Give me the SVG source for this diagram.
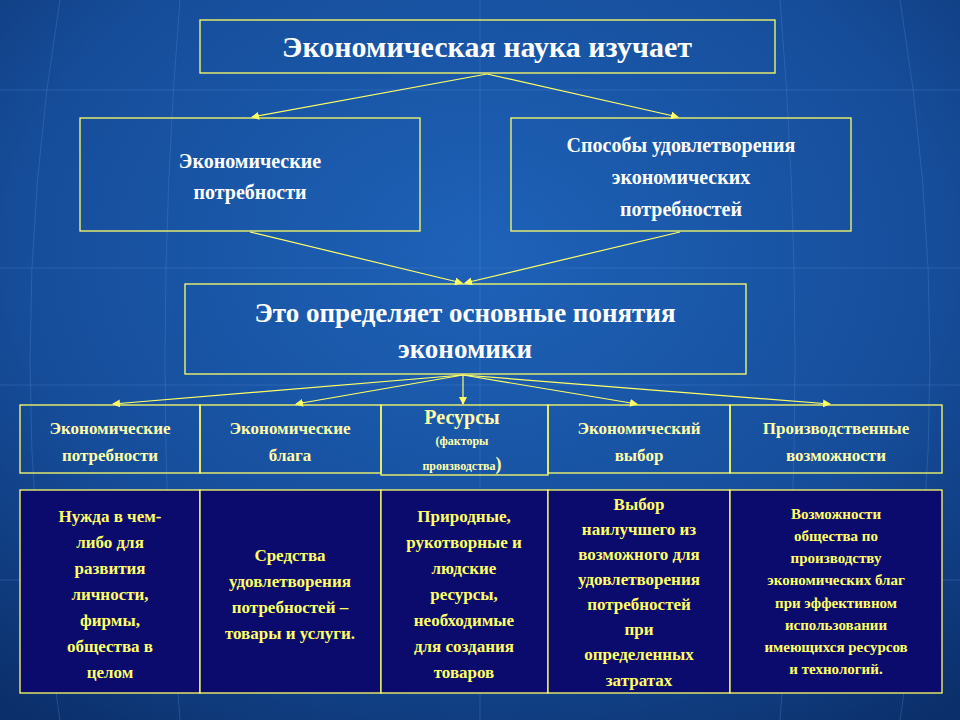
<svg xmlns="http://www.w3.org/2000/svg" width="960" height="720" viewBox="0 0 960 720">
<defs>
<radialGradient id="bg" cx="0.5" cy="0.35" r="0.8">
<stop offset="0" stop-color="#1e62b8"/>
<stop offset="0.6" stop-color="#164d9a"/>
<stop offset="1" stop-color="#0b2f6a"/>
</radialGradient>
<marker id="ar" markerWidth="8" markerHeight="8" refX="7" refY="4" orient="auto" markerUnits="userSpaceOnUse">
<path d="M0,0 L8,4 L0,8 Z" fill="#ffff66"/>
</marker>
<style>
.box{fill:none;stroke:#ffff66;stroke-width:1.3}
.dk{fill:#0b0b6e;stroke:#ffff66;stroke-width:1.3}
.w{font-family:"Liberation Serif",serif;font-weight:bold;fill:#ffffff;text-anchor:middle}
.r{font-family:"Liberation Serif",serif;font-weight:bold;fill:#ffffaa;text-anchor:middle;font-size:17px}
.y{font-family:"Liberation Serif",serif;font-weight:bold;fill:#ffff66;text-anchor:middle;font-size:17px}
.s{font-size:15px}
.g{stroke:#4a86d0;stroke-width:1;opacity:0.35;fill:none}
#conn line{stroke:#ffff66;stroke-width:1.2;marker-end:url(#ar)}
</style>
</defs>
<rect width="960" height="720" fill="url(#bg)"/>
<g>
<path class="g" d="M0,90 H960 M0,268 H960 M0,385 H960 M0,580 H960"/>
<path class="g" d="M180,0 Q150,360 180,720 M480,0 V720 M780,0 Q810,360 780,720 M60,0 Q0,360 60,720 M900,0 Q960,360 900,720"/>
</g>
<g id="conn">
<line x1="487" y1="74" x2="252" y2="117"/>
<line x1="487" y1="74" x2="678" y2="117"/>
<line x1="250" y1="232" x2="462" y2="283"/>
<line x1="680" y1="232" x2="465" y2="283"/>
<line x1="463" y1="375" x2="113" y2="404"/>
<line x1="463" y1="375" x2="296" y2="404"/>
<line x1="463" y1="375" x2="463" y2="404"/>
<line x1="463" y1="375" x2="637" y2="404"/>
<line x1="463" y1="375" x2="830" y2="404"/>
</g>
<g id="n1"><rect class="box" x="200" y="20" width="575" height="53"/>
<text class="w" x="487" y="57" font-size="30">Экономическая наука изучает</text></g>
<g id="n2"><rect class="box" x="80" y="118" width="340" height="113"/>
<text class="w" x="250" y="168" font-size="20">Экономические</text>
<text class="w" x="250" y="199" font-size="20">потребности</text></g>
<g id="n3"><rect class="box" x="511" y="118" width="340" height="113"/>
<text class="w" x="681" y="152" font-size="20">Способы удовлетворения</text>
<text class="w" x="681" y="184" font-size="20">экономических</text>
<text class="w" x="681" y="216" font-size="20">потребностей</text></g>
<g id="n4"><rect class="box" x="185" y="284" width="561" height="90"/>
<text class="w" x="465" y="322" font-size="27">Это определяет основные понятия</text>
<text class="w" x="465" y="358" font-size="27">экономики</text></g>
<g id="r1"><rect class="box" x="20" y="405" width="180" height="68"/>
<text class="r" x="110" y="434">Экономические</text>
<text class="r" x="110" y="461">потребности</text></g>
<g id="r2"><rect class="box" x="200" y="405" width="181" height="68"/>
<text class="r" x="290" y="434">Экономические</text>
<text class="r" x="290" y="461">блага</text></g>
<g id="r3"><rect class="box" x="381" y="405" width="167" height="70"/>
<text class="r" x="462" y="424" style="font-size:20px">Ресурсы</text>
<text class="r" x="462" y="445" style="font-size:12px">(факторы</text>
<text class="r" x="462" y="470" style="font-size:12px">производства<tspan style="font-size:18px">)</tspan></text></g>
<g id="r4"><rect class="box" x="548" y="405" width="182" height="68"/>
<text class="r" x="639" y="434">Экономический</text>
<text class="r" x="639" y="461">выбор</text></g>
<g id="r5"><rect class="box" x="730" y="405" width="212" height="68"/>
<text class="r" x="836" y="434">Производственные</text>
<text class="r" x="836" y="461">возможности</text></g>
<g id="b1"><rect class="dk" x="20" y="490" width="180" height="203"/>
<text class="y" x="110" y="522">Нужда в чем-</text>
<text class="y" x="110" y="548">либо для</text>
<text class="y" x="110" y="574">развития</text>
<text class="y" x="110" y="600">личности,</text>
<text class="y" x="110" y="626">фирмы,</text>
<text class="y" x="110" y="652">общества в</text>
<text class="y" x="110" y="678">целом</text></g>
<g id="b2"><rect class="dk" x="200" y="490" width="181" height="203"/>
<text class="y" x="290" y="561">Средства</text>
<text class="y" x="290" y="587">удовлетворения</text>
<text class="y" x="290" y="613">потребностей –</text>
<text class="y" x="290" y="639">товары и услуги.</text></g>
<g id="b3"><rect class="dk" x="381" y="490" width="167" height="203"/>
<text class="y" x="464" y="522">Природные,</text>
<text class="y" x="464" y="548">рукотворные и</text>
<text class="y" x="464" y="574">людские</text>
<text class="y" x="464" y="600">ресурсы,</text>
<text class="y" x="464" y="626">необходимые</text>
<text class="y" x="464" y="652">для создания</text>
<text class="y" x="464" y="678">товаров</text></g>
<g id="b4"><rect class="dk" x="548" y="490" width="182" height="203"/>
<text class="y" x="639" y="510">Выбор</text>
<text class="y" x="639" y="535">наилучшего из</text>
<text class="y" x="639" y="560">возможного для</text>
<text class="y" x="639" y="585">удовлетворения</text>
<text class="y" x="639" y="610">потребностей</text>
<text class="y" x="639" y="635">при</text>
<text class="y" x="639" y="660">определенных</text>
<text class="y" x="639" y="686">затратах</text></g>
<g id="b5"><rect class="dk" x="730" y="490" width="212" height="203"/>
<text class="y s" x="836" y="519">Возможности</text>
<text class="y s" x="836" y="541">общества по</text>
<text class="y s" x="836" y="563">производству</text>
<text class="y s" x="836" y="585">экономических благ</text>
<text class="y s" x="836" y="608">при эффективном</text>
<text class="y s" x="836" y="630">использовании</text>
<text class="y s" x="836" y="652">имеющихся ресурсов</text>
<text class="y s" x="836" y="674">и технологий.</text></g>
</svg>
